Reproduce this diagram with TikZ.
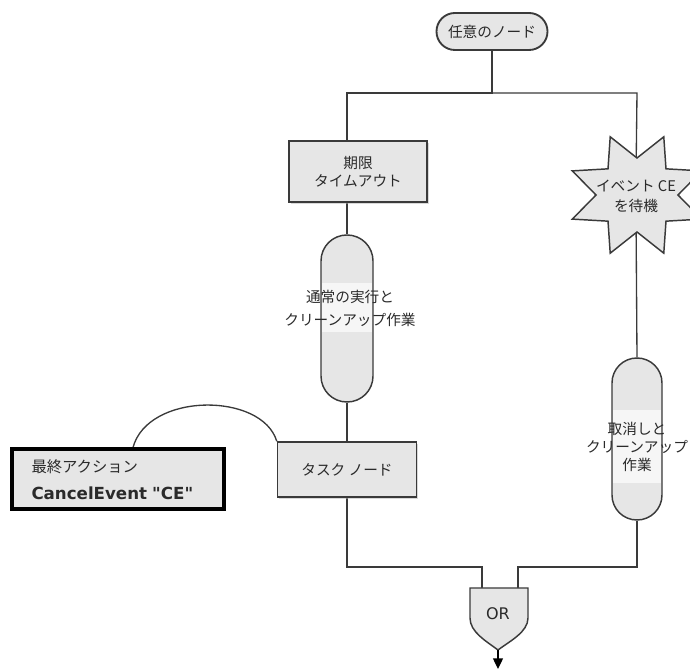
\documentclass[tikz,border=0pt]{standalone}
\usepackage{fontspec}
\setmainfont{Noto Sans CJK JP}
\newfontfamily\latfont{DejaVu Sans}
\usetikzlibrary{shadows,arrows.meta,calc}
\pgfdeclarelayer{bg}\pgfsetlayers{bg,main}
\definecolor{shapefill}{HTML}{E6E6E6}
\definecolor{bandfill}{HTML}{F6F6F6}
\definecolor{edge}{HTML}{3A3A3A}
\definecolor{ink}{HTML}{2A2A2A}
\begin{document}
\begin{tikzpicture}[x=0.75pt,y=-0.75pt,
  box/.style={draw=edge, fill=shapefill, line width=1.1pt, inner sep=0pt,
    font=\fontsize{11}{13.5}\selectfont, text=ink, align=center,
    drop shadow={shadow xshift=1.3pt, shadow yshift=-1.3pt, fill=black!30}},
  capsule/.style={draw=edge, fill=shapefill, line width=1.1pt, inner sep=0pt},
  lbl/.style={font=\fontsize{11}{13.5}\selectfont, text=ink, align=center, inner sep=1pt},
  conn/.style={draw=edge, line width=1pt},
  band/.style={fill=bandfill},
]
\useasboundingbox (0,0) rectangle (690,670);
\clip (0,0) rectangle (690,670);

% coordinates
\coordinate (jl) at (347,93);
\coordinate (jr) at (637,93);
\coordinate (bl) at (482,567);
\coordinate (br) at (518,567);
\coordinate (gl) at (482,588);
\coordinate (gr) at (518,588);
\coordinate (gout) at (498,650);
\coordinate (oend) at (498,669);

% top node
\node[capsule, rounded corners=13.8pt, minimum width=83.25pt, minimum height=27.75pt,
  line width=1.4pt, font=\fontsize{11}{13.5}\selectfont, text=ink] (top) at (492,31.5) {任意のノード};

% deadline box
\node[box, minimum width=103.5pt, minimum height=45.75pt] (dl) at (358,171.5) {期限\\タイムアウト};

% left capsule
\node[capsule, rounded corners=19.4pt, minimum width=39pt, minimum height=125.25pt] (cap1) at (347,318.5) {};
\fill[band] (321.9,283) rectangle (372.1,332);
\node[lbl, font=\fontsize{11}{17}\selectfont] (cap1t) at (350,308.5) {通常の実行と\\クリーンアップ作業};

% task node
\node[box, minimum width=104.25pt, minimum height=41.25pt] (task) at (347,469.5) {タスク ノード};

% final action box
\node[draw=black, fill=shapefill, line width=3pt, text width=129pt, inner xsep=15pt,
  minimum height=45pt, align=left, text=ink, font=\fontsize{11.5}{20}\selectfont]
  (fin) at (117.5,479.5) {最終アクション\\{\latfont\bfseries\fontsize{12.5}{20}\selectfont CancelEvent "CE"}};
\coordinate (fa) at ($(fin.north)+(15.5,0)$);

% star
\filldraw[draw=edge, fill=shapefill, line width=1.1pt] (637,195) +(22.5:70 and 63)
  \foreach \a in {0,...,7}{ -- +(45*\a+45:41 and 37) -- +(45*\a+67.5:70 and 63)} -- cycle;
\node[lbl, font=\fontsize{11}{15}\selectfont] (star) at (636,196) {イベント CE\\を待機};

% right capsule
\node[capsule, rounded corners=18.7pt, minimum width=37.5pt, minimum height=121.5pt] (cap2) at (637,439) {};
\fill[band] (612.9,410) rectangle (661.1,483);
\node[lbl] (cap2t) at (637,447) {取消しと\\クリーンアップ\\作業};

% OR gate
\filldraw[draw=edge, fill=shapefill, line width=1.1pt] (470,588) -- (528,588) -- (528,618)
  .. controls (528,632) and (510,641) .. (gout) .. controls (486,641) and (470,632) .. (470,618) -- cycle;
\node[font=\latfont\fontsize{12}{14}\selectfont, text=ink, inner sep=1pt] (gate) at (498,614) {OR};
\draw[conn, -{Triangle[length=8pt,width=7.5pt]}, black] (gout) -- (oend);

\begin{pgfonlayer}{bg}
\draw[conn] (top.south) |- (jl) -- (jl |- dl.north);
\draw[conn] (top.south) |- (jr) -- (star.north);
\draw[conn] (jl |- dl.south) -- (cap1.north);
\draw[conn] (cap1.south) -- (task.north);
\draw[conn] (star.south) -- (cap2.north);
\draw[conn] (task.south) |- (bl) -- (gl);
\draw[conn] (cap2.south) |- (br) -- (gr);
\draw[conn] (fa) .. controls (148,392) and (262,392) .. (task.north west);
\end{pgfonlayer}
\end{tikzpicture}
\end{document}
